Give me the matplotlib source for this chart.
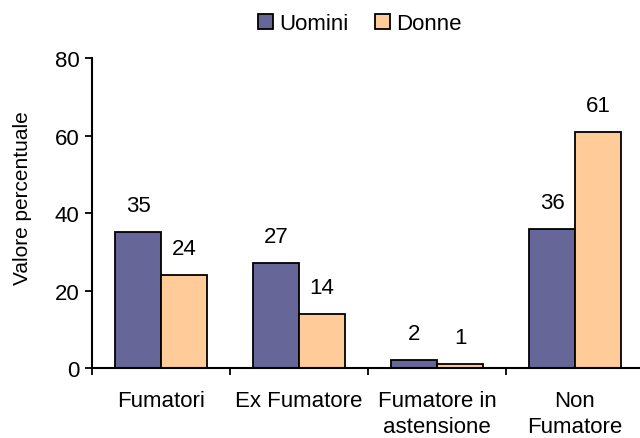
import numpy as np
import matplotlib
matplotlib.use('Agg')
import matplotlib.pyplot as plt

plt.rcParams['font.family'] = ['Liberation Sans', 'DejaVu Sans']

categorie = ['Fumatori', 'Ex Fumatore', 'Fumatore in\nastensione', 'Non\nFumatore']
uomini = [35, 27, 2, 36]
donne = [24, 14, 1, 61]

fs = 16
fig = plt.figure(figsize=(6.4, 4.39), dpi=100)
ax = fig.add_axes([92/640, 1-369/439, 552/640, 310/439])

x = np.arange(len(categorie))
w = 1/3
b1 = ax.bar(x - w/2, uomini, w, color='#666699', edgecolor='black', linewidth=1.3, label='Uomini')
b2 = ax.bar(x + w/2, donne, w, color='#FFCC99', edgecolor='black', linewidth=1.3, label='Donne')

for bars, vals in [(b1, uomini), (b2, donne)]:
    for r, v in zip(bars, vals):
        ax.annotate(str(v), (r.get_x() + r.get_width()/2, v), xytext=(0, 11.5),
                    textcoords='offset points', ha='center', va='bottom', fontsize=fs)

ax.set_xlim(-0.5, 3.5)
ax.set_ylim(0, 80)
ax.set_yticks([0, 20, 40, 60, 80])
ax.set_xticks(np.arange(-0.5, 4, 1))
ax.set_xticklabels([])
ax.set_xticks(x, minor=True)
ax.set_xticklabels(categorie, minor=True, linespacing=1.3)
ax.tick_params(axis='x', which='minor', length=0, pad=16, labelsize=fs)
ax.tick_params(axis='x', which='major', length=5, width=1.3, direction='out')
ax.tick_params(axis='y', length=5, width=1.3, pad=4, labelsize=fs)

for s in ['top', 'right']:
    ax.spines[s].set_visible(False)
for s in ['left', 'bottom']:
    ax.spines[s].set_linewidth(1.5)

fig.text(23/640, 1-198/439, 'Valore percentuale', rotation=90, ha='center', va='center', fontsize=15)

fig.legend(loc='center', bbox_to_anchor=(360/640, 1-25/439), ncol=2, frameon=False,
           fontsize=fs, handlelength=0.65, handleheight=0.65, handletextpad=0.3,
           columnspacing=1.2, borderpad=0)

plt.savefig('out.png', dpi=100)
